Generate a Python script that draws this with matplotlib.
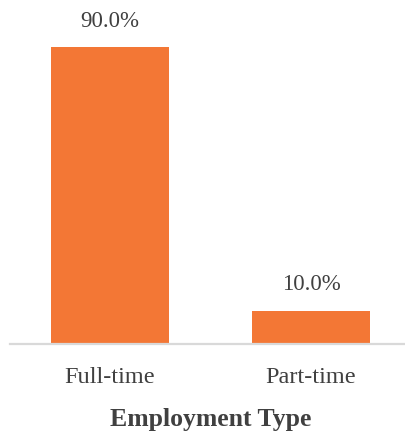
import matplotlib.pyplot as plt

# employment split, in percent
categories = ["Full-time", "Part-time"]
shares = [90.0, 10.0]

W, H = 406, 436
plt.rcParams["font.family"] = ["Liberation Serif", "DejaVu Serif"]
text_color = "#404040"
bar_color = "#F37735"

fig = plt.figure(figsize=(W / 100, H / 100), dpi=100)
# axes in pixel terms: x from 9.5 to 411.5, baseline at y=343.5, top at y=14
ax = fig.add_axes([9.5 / W, (H - 343.5) / H, 402 / W, (343.5 - 14) / H])

xs = range(len(categories))
bars = ax.bar(xs, shares, width=0.587, color=bar_color, zorder=2)

for b, v in zip(bars, shares):
    ax.annotate(f"{v:.1f}%", (b.get_x() + b.get_width() / 2, v),
                xytext=(0, 11), textcoords="offset points",
                ha="center", va="bottom", fontsize=16.5, color=text_color)

ax.set_xlim(-0.5, 1.5)
ax.set_ylim(0, 100)
ax.set_xticks(list(xs))
ax.set_xticklabels(categories, fontsize=17.5, color=text_color)
ax.tick_params(axis="x", length=0, pad=17)
ax.set_yticks([])

for side in ["top", "right", "left"]:
    ax.spines[side].set_visible(False)
ax.spines["bottom"].set_color("#d9d9d9")
ax.spines["bottom"].set_linewidth(1.6)

ax.set_xlabel("Employment Type", fontsize=18.5, fontweight="bold",
              color=text_color, labelpad=14)

fig.savefig("out.png", dpi=100)
